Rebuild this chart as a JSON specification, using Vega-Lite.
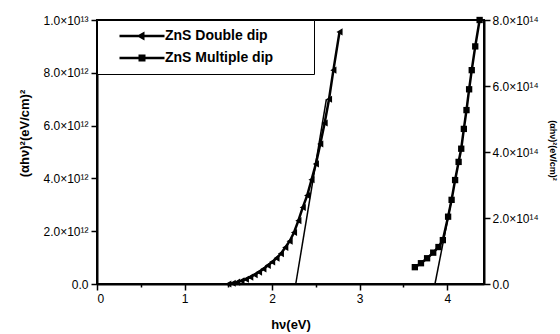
{
  "$schema": "https://vega.github.io/schema/vega-lite/v6.json",
  "width": 387,
  "height": 264,
  "autosize": {"type": "none"},
  "padding": {"left": 97, "top": 20, "right": 76, "bottom": 50},
  "background": "white",
  "config": {
    "view": {"stroke": "black", "strokeWidth": 2},
    "font": "Liberation Sans",
    "axis": {
      "domainColor": "black", "domainWidth": 2, "tickColor": "black", "tickWidth": 1.5,
      "grid": false, "labelFont": "Liberation Sans", "labelFontSize": 12, "labelColor": "black",
      "titleColor": "black", "titleFont": "Liberation Sans", "titleFontWeight": "bold", "labelOverlap": false
    }
  },
  "datasets": {
    "double": [
      {"hv": 1.50, "a": 0.00e12, "series": "ZnS Double dip"},
      {"hv": 1.55, "a": 0.03e12, "series": "ZnS Double dip"},
      {"hv": 1.60, "a": 0.07e12, "series": "ZnS Double dip"},
      {"hv": 1.65, "a": 0.12e12, "series": "ZnS Double dip"},
      {"hv": 1.70, "a": 0.18e12, "series": "ZnS Double dip"},
      {"hv": 1.75, "a": 0.26e12, "series": "ZnS Double dip"},
      {"hv": 1.80, "a": 0.35e12, "series": "ZnS Double dip"},
      {"hv": 1.85, "a": 0.45e12, "series": "ZnS Double dip"},
      {"hv": 1.90, "a": 0.57e12, "series": "ZnS Double dip"},
      {"hv": 1.95, "a": 0.70e12, "series": "ZnS Double dip"},
      {"hv": 2.00, "a": 0.83e12, "series": "ZnS Double dip"},
      {"hv": 2.05, "a": 0.98e12, "series": "ZnS Double dip"},
      {"hv": 2.10, "a": 1.15e12, "series": "ZnS Double dip"},
      {"hv": 2.15, "a": 1.38e12, "series": "ZnS Double dip"},
      {"hv": 2.20, "a": 1.62e12, "series": "ZnS Double dip"},
      {"hv": 2.25, "a": 1.95e12, "series": "ZnS Double dip"},
      {"hv": 2.30, "a": 2.40e12, "series": "ZnS Double dip"},
      {"hv": 2.35, "a": 2.90e12, "series": "ZnS Double dip"},
      {"hv": 2.40, "a": 3.35e12, "series": "ZnS Double dip"},
      {"hv": 2.45, "a": 3.95e12, "series": "ZnS Double dip"},
      {"hv": 2.50, "a": 4.55e12, "series": "ZnS Double dip"},
      {"hv": 2.55, "a": 5.30e12, "series": "ZnS Double dip"},
      {"hv": 2.60, "a": 6.10e12, "series": "ZnS Double dip"},
      {"hv": 2.65, "a": 7.00e12, "series": "ZnS Double dip"},
      {"hv": 2.70, "a": 8.10e12, "series": "ZnS Double dip"},
      {"hv": 2.77, "a": 9.55e12, "series": "ZnS Double dip"}
    ],
    "doubleTangent": [
      {"hv": 2.27, "a": 0},
      {"hv": 2.62, "a": 7.0e12}
    ],
    "multiple": [
      {"hv": 3.63, "b": 0.51e14, "series": "ZnS Multiple dip"},
      {"hv": 3.70, "b": 0.63e14, "series": "ZnS Multiple dip"},
      {"hv": 3.77, "b": 0.78e14, "series": "ZnS Multiple dip"},
      {"hv": 3.84, "b": 0.95e14, "series": "ZnS Multiple dip"},
      {"hv": 3.90, "b": 1.12e14, "series": "ZnS Multiple dip"},
      {"hv": 3.95, "b": 1.33e14, "series": "ZnS Multiple dip"},
      {"hv": 4.01, "b": 2.04e14, "series": "ZnS Multiple dip"},
      {"hv": 4.05, "b": 2.55e14, "series": "ZnS Multiple dip"},
      {"hv": 4.09, "b": 3.15e14, "series": "ZnS Multiple dip"},
      {"hv": 4.13, "b": 3.70e14, "series": "ZnS Multiple dip"},
      {"hv": 4.16, "b": 4.10e14, "series": "ZnS Multiple dip"},
      {"hv": 4.19, "b": 4.70e14, "series": "ZnS Multiple dip"},
      {"hv": 4.22, "b": 5.27e14, "series": "ZnS Multiple dip"},
      {"hv": 4.25, "b": 5.90e14, "series": "ZnS Multiple dip"},
      {"hv": 4.28, "b": 6.48e14, "series": "ZnS Multiple dip"},
      {"hv": 4.32, "b": 7.20e14, "series": "ZnS Multiple dip"},
      {"hv": 4.37, "b": 8.00e14, "series": "ZnS Multiple dip"}
    ],
    "multipleTangent": [
      {"hv": 3.86, "b": 0},
      {"hv": 4.06, "b": 2.7e14}
    ]
  },
  "layer": [
    {
      "layer": [
        {
          "data": {"name": "double"},
          "mark": {"type": "line", "color": "black", "strokeWidth": 2.5},
          "encoding": {
            "x": {
              "field": "hv", "type": "quantitative",
              "scale": {"domain": [0, 4.42], "nice": false, "zero": false},
              "axis": {
                "title": "hν(eV)", "titleFontSize": 13, "titlePadding": 14,
                "values": [0, 0.5, 1, 1.5, 2, 2.5, 3, 3.5, 4],
                "labelExpr": "datum.value % 1 === 0 ? format(datum.value, 'd') : ''",
                "tickSize": {"condition": {"test": "datum.value % 1 === 0", "value": 6}, "value": 3},
                "labelPadding": 3
              }
            },
            "y": {
              "field": "a", "type": "quantitative",
              "scale": {"domain": [0, 1e13], "nice": false},
              "axis": {
                "title": "(αhν)²(eV/cm)²", "titleFontSize": 13,
                "titleX": -73, "titleY": 113, "titleAlign": "center", "titleBaseline": "middle", "titleAngle": 270,
                "values": [0, 1e12, 2e12, 3e12, 4e12, 5e12, 6e12, 7e12, 8e12, 9e12, 1e13],
                "labelExpr": "datum.value === 0 ? '0.0' : datum.value >= 1e13 ? '1.0×10¹³' : (datum.value % 2e12 === 0 ? format(datum.value / 1e12, '.1f') + '×10¹²' : '')",
                "tickSize": {"condition": {"test": "datum.value % 2e12 === 0", "value": 6}, "value": 3},
                "labelPadding": 3
              }
            }
          }
        },
        {
          "data": {"name": "double"},
          "mark": {"type": "point", "filled": true, "color": "black", "size": 50, "opacity": 1, "shape": "triangle-left"},
          "encoding": {
            "x": {"field": "hv", "type": "quantitative"},
            "y": {"field": "a", "type": "quantitative"}
          }
        },
        {
          "data": {"name": "double"},
          "mark": {"type": "point", "filled": true, "color": "black", "opacity": 0},
          "encoding": {
            "x": {"field": "hv", "type": "quantitative"},
            "y": {"field": "a", "type": "quantitative"},
            "shape": {
              "field": "series", "type": "nominal",
              "scale": {
                "domain": ["ZnS Double dip", "ZnS Multiple dip"],
                "range": [
                  "M-4.5,-0.25H4.5V0.25H-4.5ZM-1.1,0L0.5,-0.9L0.5,0.9Z",
                  "M-4.5,-0.25H4.5V0.25H-4.5ZM-0.7,-0.7H0.7V0.7H-0.7Z"
                ]
              },
              "legend": {
                "orient": "none", "legendX": 0, "legendY": 0, "title": null,
                "strokeColor": "black", "fillColor": "white", "padding": 9,
                "symbolSize": 100, "symbolOpacity": 1, "symbolFillColor": "black", "symbolStrokeColor": "black",
                "symbolStrokeWidth": 0, "symbolOffset": 29, "labelOffset": 16,
                "labelFont": "Liberation Sans", "labelFontSize": 14, "labelFontWeight": "bold",
                "labelColor": "black", "rowPadding": 8,
                "labelExpr": "datum.label + '        \u200b'",
                "encode": {
                  "symbols": {
                    "update": {
                      "fill": {"value": "black"},
                      "opacity": {"value": 1}
                    }
                  }
                }
              }
            }
          }
        },
        {
          "data": {"name": "doubleTangent"},
          "mark": {"type": "line", "color": "black", "strokeWidth": 1.5},
          "encoding": {
            "x": {"field": "hv", "type": "quantitative"},
            "y": {"field": "a", "type": "quantitative"}
          }
        }
      ]
    },
    {
      "layer": [
        {
          "data": {"name": "multiple"},
          "mark": {"type": "line", "color": "black", "strokeWidth": 2.5},
          "encoding": {
            "x": {"field": "hv", "type": "quantitative"},
            "y": {
              "field": "b", "type": "quantitative",
              "scale": {"domain": [0, 8e14], "nice": false},
              "axis": {
                "orient": "right",
                "title": "(αhν)²(eV/cm)²", "titleFontSize": 9,
                "titleX": 68, "titleY": 130, "titleAlign": "center", "titleBaseline": "middle", "titleAngle": 90,
                "values": [0, 1e14, 2e14, 3e14, 4e14, 5e14, 6e14, 7e14, 8e14],
                "labelExpr": "datum.value === 0 ? '0.0' : (datum.value % 2e14 === 0 ? format(datum.value / 1e14, '.1f') + '×10¹⁴' : '')",
                "tickSize": {"condition": {"test": "datum.value % 2e14 === 0", "value": 6}, "value": 3},
                "labelPadding": 2
              }
            }
          }
        },
        {
          "data": {"name": "multiple"},
          "mark": {"type": "point", "filled": true, "color": "black", "size": 40, "opacity": 1, "shape": "square"},
          "encoding": {
            "x": {"field": "hv", "type": "quantitative"},
            "y": {"field": "b", "type": "quantitative"}
          }
        },
        {
          "data": {"name": "multipleTangent"},
          "mark": {"type": "line", "color": "black", "strokeWidth": 1.5},
          "encoding": {
            "x": {"field": "hv", "type": "quantitative"},
            "y": {"field": "b", "type": "quantitative"}
          }
        }
      ]
    }
  ],
  "resolve": {"scale": {"y": "independent"}}
}
